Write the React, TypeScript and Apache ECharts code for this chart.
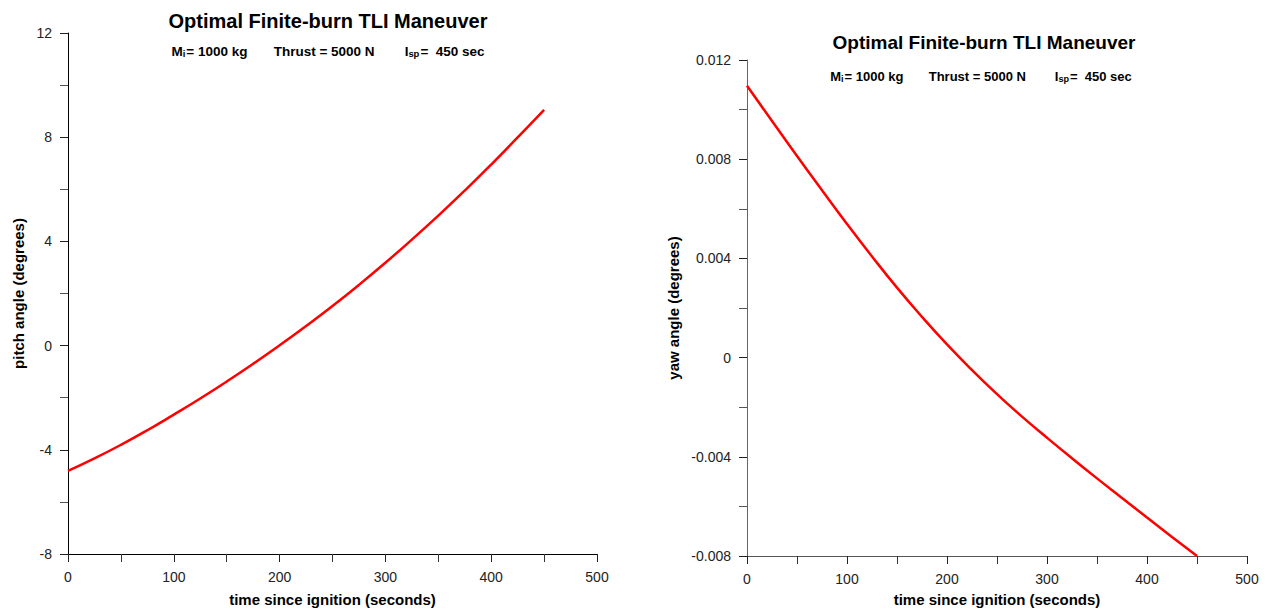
import React, { useEffect, useRef } from "react";
import * as echarts from "echarts";

// time since ignition (seconds)
const timeSeconds = [0, 25, 50, 75, 100, 125, 150, 175, 200, 225, 250, 275, 300, 325, 350, 375, 400, 425, 450];
// pitch angle (degrees)
const pitchDeg = [-4.81, -4.33, -3.81, -3.25, -2.65, -2.03, -1.38, -0.7, 0.01, 0.75, 1.52, 2.33, 3.18, 4.07, 4.99, 5.95, 6.95, 7.99, 9.05];
// yaw angle (degrees)
const yawDeg = [
  0.01096, 0.00954, 0.00813, 0.00675, 0.00539, 0.00408, 0.00282, 0.00164, 0.00053, -0.0005,
  -0.00147, -0.00238, -0.00323, -0.00406, -0.00487, -0.00566, -0.00645, -0.00723, -0.008,
];

const titleText = "Optimal Finite-burn TLI Maneuver";
const xName = "time since ignition (seconds)";
const pitchName = "pitch angle (degrees)";
const yawName = "yaw angle (degrees)";

const FONT = "'Liberation Sans', Arial, Helvetica, sans-serif";

function subtitle(x: number, y: number, size: number) {
  return {
    type: "text",
    x,
    y,
    style: {
      text:
        "{m|M}{s|i}{m|= 1000 kg       Thrust = 5000 N        I}{s|sp}{m|=  450 sec}",
      align: "center",
      verticalAlign: "middle",
      fontFamily: FONT,
      rich: {
        m: { fontSize: size, fontWeight: "bold", fontFamily: FONT, fill: "#000", lineHeight: 14 },
        s: {
          fontSize: size * 0.7,
          fontWeight: "bold",
          fontFamily: FONT,
          fill: "#000",
          lineHeight: 2,
          verticalAlign: "bottom",
          padding: [0, 1, 0, 0],
        },
      },
    },
  };
}

function xAxisOpt(gridIndex: number, nameGap: number, lineColor: string) {
  return {
    gridIndex,
    type: "value",
    min: 0,
    max: 500,
    interval: 100,
    name: xName,
    nameLocation: "middle",
    nameGap,
    nameTextStyle: { fontWeight: "bold", fontSize: 15, color: "#000", fontFamily: FONT },
    axisLine: { onZero: false, lineStyle: { color: lineColor, width: 1 } },
    axisTick: { length: 8, lineStyle: { color: "#222" } },
    minorTick: { show: true, splitNumber: 2, length: 8, lineStyle: { color: "#333" } },
    splitLine: { show: false },
    minorSplitLine: { show: false },
    axisLabel: { margin: 16, fontSize: 14, color: "#222", fontFamily: FONT },
  };
}

function yAxisOpt(
  gridIndex: number,
  min: number,
  max: number,
  interval: number,
  name: string,
  nameGap: number,
  lineColor: string
) {
  return {
    gridIndex,
    type: "value",
    min,
    max,
    interval,
    name,
    nameLocation: "middle",
    nameGap,
    nameTextStyle: { fontWeight: "bold", fontSize: 15, color: "#000", fontFamily: FONT },
    axisLine: { onZero: false, lineStyle: { color: lineColor, width: 1 } },
    axisTick: { length: 8, lineStyle: { color: "#222" } },
    minorTick: { show: true, splitNumber: 2, length: 8, lineStyle: { color: "#555" } },
    splitLine: { show: false },
    minorSplitLine: { show: false },
    axisLabel: { margin: 16, fontSize: 14, color: "#222", fontFamily: FONT },
  };
}

export default function App() {
  const ref = useRef<HTMLDivElement>(null);

  useEffect(() => {
    if (!ref.current) return;
    const chart = echarts.init(ref.current, undefined, { renderer: "svg" });
    const pitchData = timeSeconds.map((t, i) => [t, pitchDeg[i]]);
    const yawData = timeSeconds.map((t, i) => [t, yawDeg[i]]);

    chart.setOption({
      animation: false,
      backgroundColor: "#fff",
      textStyle: { fontFamily: FONT },
      grid: [
        { left: 68, top: 33, width: 529, height: 527, containLabel: false },
        { left: 747, top: 60, width: 500, height: 502, containLabel: false },
      ],
      xAxis: [xAxisOpt(0, 38, "#000"), xAxisOpt(1, 36, "#555")],
      yAxis: [
        yAxisOpt(0, -8, 12, 4, pitchName, 42, "#000"),
        yAxisOpt(1, -0.008, 0.012, 0.004, yawName, 66, "#666"),
      ],
      series: [
        {
          type: "line",
          xAxisIndex: 0,
          yAxisIndex: 0,
          data: pitchData,
          smooth: true,
          showSymbol: false,
          lineStyle: { color: "#ff0000", width: 2.5 },
        },
        {
          type: "line",
          xAxisIndex: 1,
          yAxisIndex: 1,
          data: yawData,
          smooth: true,
          showSymbol: false,
          lineStyle: { color: "#ff0000", width: 2.5 },
        },
      ],
      graphic: [
        {
          type: "text",
          x: 328,
          y: 21,
          style: {
            text: titleText,
            align: "center",
            verticalAlign: "middle",
            fontSize: 20,
            fontWeight: "bold",
            fontFamily: FONT,
            fill: "#000",
          },
        },
        subtitle(328, 51, 13.5),
        {
          type: "text",
          x: 984,
          y: 42,
          style: {
            text: titleText,
            align: "center",
            verticalAlign: "middle",
            fontSize: 19,
            fontWeight: "bold",
            fontFamily: FONT,
            fill: "#000",
          },
        },
        subtitle(981, 76, 13),
      ],
    });

    return () => chart.dispose();
  }, []);

  return (
    <div
      ref={ref}
      style={{ position: "fixed", left: 0, top: 0, width: 1268, height: 612, background: "#fff" }}
    />
  );
}
